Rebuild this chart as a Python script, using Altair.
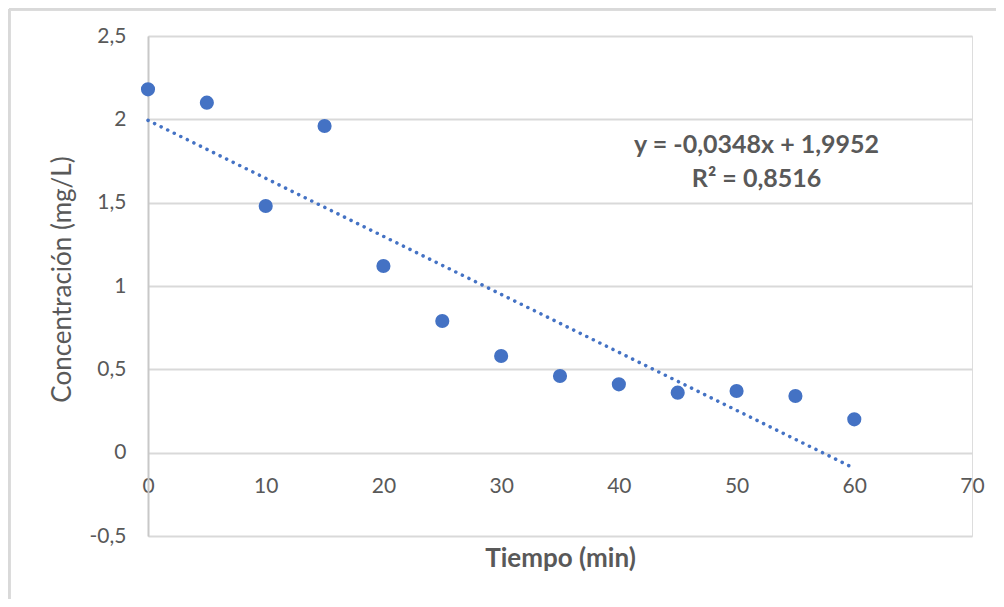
import altair as alt
import pandas as pd

# Data
tiempo = [0, 5, 10, 15, 20, 25, 30, 35, 40, 45, 50, 55, 60]
concentracion = [2.18, 2.10, 1.48, 1.96, 1.12, 0.79, 0.58, 0.46, 0.41, 0.36, 0.37, 0.34, 0.20]

x_ticks = [0, 10, 20, 30, 40, 50, 60, 70]
y_ticks = [-0.5, 0, 0.5, 1, 1.5, 2, 2.5]

eq_lines = ["y = -0,0348x + 1,9952", "R² = 0,8516"]
eq_x = [51.7, 51.7]
eq_y = [1.80, 1.595]

df = pd.DataFrame({"t": tiempo, "c": concentracion})
eq_df = pd.DataFrame({"label": eq_lines, "x": eq_x, "y": eq_y})

FONT = "Lato"
GREY = "#595959"
BLUE = "#4472C4"
W, H = 824, 500

xscale = alt.Scale(domain=[0, 70], nice=False, zero=False)
yscale = alt.Scale(domain=[-0.5, 2.5], nice=False, zero=False)

label_expr = "replace(toString(datum.value), '.', ',')"

base = alt.Chart(df)

points = base.mark_circle(size=200, color=BLUE, opacity=1).encode(
    x=alt.X(
        "t:Q",
        scale=xscale,
        axis=alt.Axis(
            values=x_ticks,
            grid=False,
            ticks=False,
            domain=False,
            offset=-(H * 0.5 / 3.0),
            labelPadding=23,
            labelFlush=False,
            labelOverlap=False,
            labelFontSize=21,
            labelColor=GREY,
            labelFont=FONT,
            labelExpr=label_expr,
            title="Tiempo (min)",
            titleFont=FONT,
            titleFontSize=26,
            titleFontWeight="bold",
            titleColor=GREY,
            titleBaseline="alphabetic",
            titleY=114,
        ),
    ),
    y=alt.Y(
        "c:Q",
        scale=yscale,
        axis=alt.Axis(
            values=y_ticks,
            grid=True,
            gridColor="#d9d9d9",
            gridWidth=2,
            ticks=False,
            domain=True,
            domainColor="#c8c8c8",
            domainWidth=2,
            labelPadding=22,
            labelFlush=False,
            labelOverlap=False,
            labelFontSize=21,
            labelColor=GREY,
            labelFont=FONT,
            labelExpr=label_expr,
            title="Concentración (mg/L)",
            titleFont=FONT,
            titleFontSize=26,
            titleFontWeight="normal",
            titleColor=GREY,
            titleBaseline="alphabetic",
            titleAngle=-90,
            titleX=-78,
            titleY=243,
            titleAlign="center",
        ),
    ),
)

trend = base.transform_regression(
    "t", "c", method="linear", extent=[0, 60]
).mark_line(
    color=BLUE, strokeWidth=3.5, strokeDash=[0.1, 7.2], strokeCap="round"
).encode(
    x=alt.X("t:Q", scale=xscale),
    y=alt.Y("c:Q", scale=yscale),
)

eq_text = alt.Chart(eq_df).mark_text(
    font=FONT, fontSize=25, fontWeight="bold", color=GREY,
    align="center", baseline="alphabetic"
).encode(
    x=alt.X("x:Q", scale=xscale),
    y=alt.Y("y:Q", scale=yscale),
    text="label:N",
)

# outer chart-area frame (left and top edges visible in the reference)
frame_left = alt.Chart(df).mark_rule(color="#d9d9d9", strokeWidth=2.5).encode(
    x=alt.value(-139), y=alt.value(-27), y2=alt.value(H + 70)
)
frame_top = alt.Chart(df).mark_rule(color="#d9d9d9", strokeWidth=2.5).encode(
    x=alt.value(-139), x2=alt.value(W + 40), y=alt.value(-27)
)

chart = alt.layer(frame_left, frame_top, trend, points, eq_text).properties(
    width=W,
    height=H,
    autosize=alt.AutoSizeParams(type="none"),
    padding={"left": 140, "top": 28, "right": 24, "bottom": 63},
).configure_view(strokeWidth=0, stroke="transparent").configure(background="white")

chart.save("out.html", embed_options={"renderer": "svg", "actions": False})
